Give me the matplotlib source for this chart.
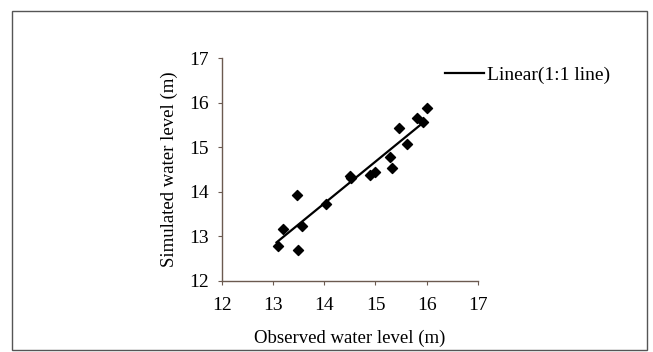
import matplotlib.pyplot as plt
from matplotlib.patches import Rectangle
from matplotlib.lines import Line2D

# observed vs simulated water levels (m)
observed = [13.10, 13.19, 13.47, 13.48, 13.56, 14.03, 14.50, 14.53, 14.90,
            14.99, 15.29, 15.33, 15.46, 15.62, 15.81, 15.92, 16.00]
simulated = [12.78, 13.16, 13.93, 12.69, 13.23, 13.72, 14.35, 14.30, 14.38,
             14.44, 14.77, 14.53, 15.42, 15.07, 15.66, 15.57, 15.87]

# fitted line end points
line_x = [13.07, 15.92]
line_y = [12.86, 15.54]

ticks = [12, 13, 14, 15, 16, 17]

plt.rcParams['font.family'] = ['Liberation Serif', 'DejaVu Serif']

fig = plt.figure(figsize=(6.53, 3.52), dpi=100)
fig.patch.set_facecolor('white')
ax = fig.add_axes([0.3395, 0.2026, 0.3925, 0.6324])

ax.scatter(observed, simulated, marker='D', s=26, color='black', zorder=3)
ax.plot(line_x, line_y, color='black', lw=1.6, zorder=2)

ax.set_xlim(12, 17)
ax.set_ylim(12, 17)
ax.set_xticks(ticks)
ax.set_yticks(ticks)
ax.tick_params(labelsize=14, direction='out', length=3, width=0.8,
               color='#6b5a50')
ax.tick_params(axis='x', pad=9)
ax.tick_params(axis='y', pad=6)
for s in ['top', 'right']:
    ax.spines[s].set_visible(False)
for s in ['left', 'bottom']:
    ax.spines[s].set_color('#6b5a50')
    ax.spines[s].set_linewidth(1.0)

ax.set_xlabel('Observed water level (m)', fontsize=13.5, labelpad=11)
ax.set_ylabel('Simulated water level (m)', fontsize=13.5, labelpad=8)

# legend
handle = Line2D([], [], color='black', lw=1.6)
fig.legend([handle], ['Linear(1:1 line)'], loc='center left',
           bbox_to_anchor=(0.655, 0.787), frameon=False, fontsize=14,
           handlelength=2.0, handletextpad=0.15)

# outer frame
fig.patches.append(Rectangle((12 / 653, 2 / 352), 635 / 653, 339 / 352,
                             transform=fig.transFigure, fill=False,
                             edgecolor='#555555', lw=1.0))

fig.savefig('out.png', dpi=100)
